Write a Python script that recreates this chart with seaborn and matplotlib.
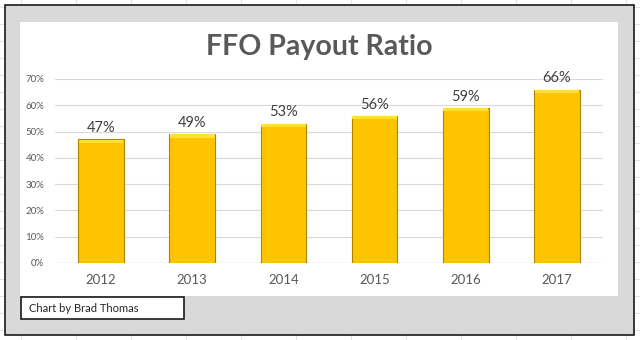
import matplotlib
matplotlib.use("Agg")
import matplotlib.pyplot as plt
import seaborn as sns
import pandas as pd
from matplotlib.patches import Rectangle
from matplotlib.lines import Line2D
from matplotlib.ticker import PercentFormatter

years = ["2012", "2013", "2014", "2015", "2016", "2017"]
payout = [0.47, 0.49, 0.53, 0.56, 0.59, 0.66]
labels = ["47%", "49%", "53%", "56%", "59%", "66%"]
yticks = [0, 0.1, 0.2, 0.3, 0.4, 0.5, 0.6, 0.7]

sns.set_style("white")
plt.rcParams["font.family"] = ["Lato", "DejaVu Sans"]

W, H = 640, 340
fig = plt.figure(figsize=(6.4, 3.4), dpi=100)
fig.patch.set_facecolor("white")

def px(x0, y0, x1, y1):
    return (x0 / W, 1 - y1 / H), (x1 - x0) / W, (y1 - y0) / H

# spreadsheet grid lines in background
for x in range(21, 640, 55):
    fig.add_artist(Line2D([x / W, x / W], [0, 1], color="#e3e3e3", lw=0.8, zorder=0))
for y in range(7, 340, 17):
    fig.add_artist(Line2D([0, 1], [1 - y / H, 1 - y / H], color="#e3e3e3", lw=0.8, zorder=0))

xy, w, h = px(5, 5, 634, 335)
fig.add_artist(Rectangle(xy, w, h, transform=fig.transFigure, facecolor="#d9d9d9",
                         edgecolor="#1a1a1a", lw=1.2, zorder=1))
xy, w, h = px(20, 22, 618, 296)
fig.add_artist(Rectangle(xy, w, h, transform=fig.transFigure, facecolor="white",
                         edgecolor="none", zorder=2))
xy, w, h = px(21, 297, 184, 319)
fig.add_artist(Rectangle(xy, w, h, transform=fig.transFigure, facecolor="white",
                         edgecolor="#1a1a1a", lw=1.2, zorder=2))
fig.text(29 / W, 1 - 309 / H, "Chart by Brad Thomas", fontsize=8, color="#262626",
         va="center", ha="left", zorder=3)

fig.text(319 / W, 1 - 47 / H, "FFO Payout Ratio", fontsize=20.5, fontweight="bold",
         color="#595959", ha="center", va="center", zorder=3)

ax = fig.add_axes([55.4 / W, 77 / H, 547.2 / W, 184 / H], zorder=3)
ax.patch.set_alpha(0)
df = pd.DataFrame({"year": years, "payout": payout})
sns.barplot(data=df, x="year", y="payout", ax=ax, color="#FFC400", width=0.5,
            edgecolor="#B08400", linewidth=0.8, saturation=1, zorder=3)

# bevel highlight on top of each bar
for p in ax.patches:
    ax.add_patch(Rectangle((p.get_x() + 0.005, p.get_height() - 0.013), p.get_width() - 0.01, 0.012,
                           facecolor="#FFE033", edgecolor="none", zorder=4))

for i, (v, lab) in enumerate(zip(payout, labels)):
    ax.text(i, v + 0.016, lab, ha="center", va="bottom", fontsize=10.5, color="#404040",
            clip_on=False)

ax.set_ylim(0, 0.7)
ax.set_xlim(-0.5, 5.5)
ax.set_yticks(yticks)
ax.yaxis.set_major_formatter(PercentFormatter(1.0, decimals=0))
ax.grid(axis="y", color="#d9d9d9", lw=0.8, zorder=0)
ax.set_axisbelow(True)
for s in ax.spines.values():
    s.set_visible(False)
ax.axhline(0, color="#bfbfbf", lw=0.8, zorder=2)
ax.tick_params(axis="y", labelsize=7, colors="#595959", length=0, pad=8)
ax.tick_params(axis="x", labelsize=9.5, colors="#595959", length=0, pad=8)
ax.set_xlabel("")
ax.set_ylabel("")

fig.savefig("out.png", dpi=100)
